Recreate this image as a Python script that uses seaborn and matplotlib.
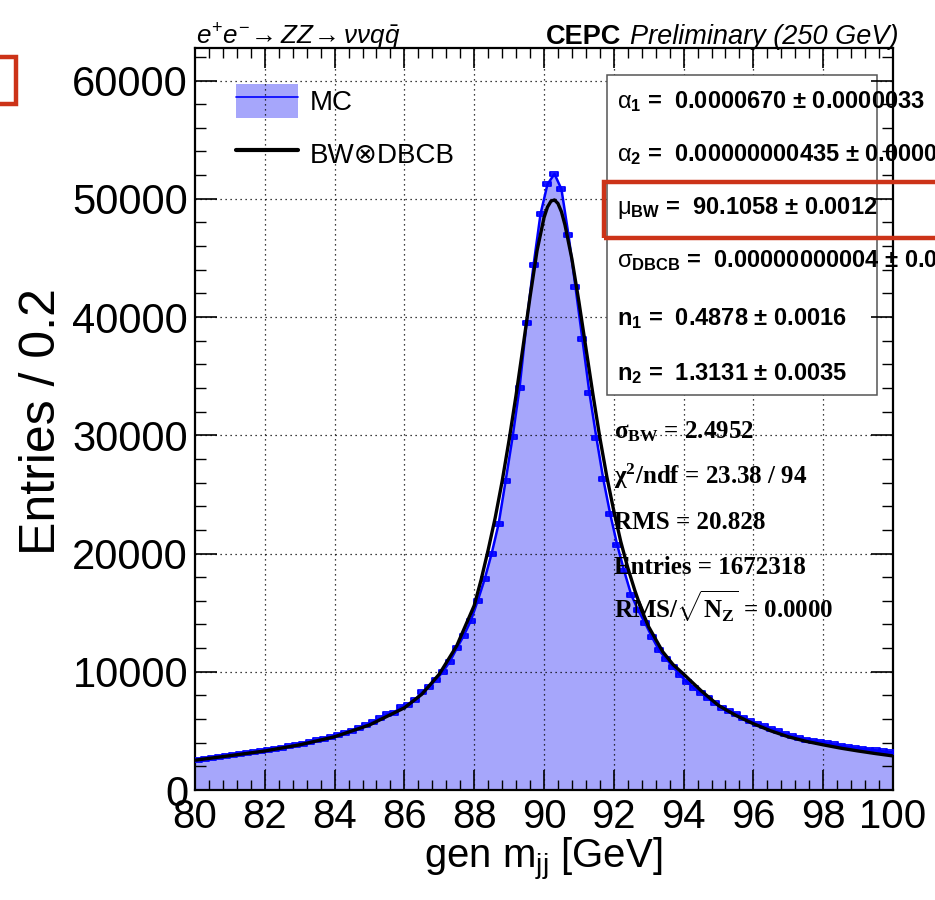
import numpy as np
import matplotlib
matplotlib.use("Agg")
import matplotlib.pyplot as plt
import seaborn as sns
from matplotlib import font_manager
from matplotlib.patches import Rectangle, Patch
from matplotlib.lines import Line2D
from matplotlib.path import Path
from matplotlib.legend_handler import HandlerTuple
from matplotlib.ticker import MultipleLocator

# ---------------------------------------------------------------- data
mass_lo, mass_hi, bin_width = 80.0, 100.0, 0.2
mass_centres = np.round(np.arange(mass_lo + bin_width / 2, mass_hi, bin_width), 1)

# generator-level dijet mass, entries per 0.2 GeV bin (80.1 ... 99.9)
mc_entries = [
    2570, 2650, 2740, 2820, 2880, 3000, 3080, 3140, 3220, 3310,     # 80.1-81.9
    3420, 3500, 3590, 3700, 3840, 3930, 4070, 4210, 4350, 4490,     # 82.1-83.9
    4690, 4830, 4970, 5250, 5480, 5760, 6050, 6410, 6550, 6980,     # 84.1-85.9
    7230, 7600, 8250, 8730, 9290, 10000, 10850, 11980, 13050, 14300,  # 86.1-87.9
    16000, 17830, 20000, 22510, 26140, 29840, 34030, 39510, 44380, 48710,  # 88.1-89.9
    51230, 52100, 50810, 46970, 42570, 38130, 33610, 29810, 26270, 23300,  # 90.1-91.9
    20700, 18500, 16500, 15200, 14100, 12900, 11800, 11100, 10400, 9700,   # 92.1-93.9
    9150, 8600, 8180, 7760, 7340, 6970, 6690, 6450, 6130, 5820,     # 94.1-95.9
    5540, 5380, 5180, 4960, 4740, 4550, 4400, 4270, 4160, 4060,     # 96.1-97.9
    3970, 3850, 3750, 3620, 3560, 3490, 3420, 3350, 3270, 3190,     # 98.1-99.9
]

# BW (x) double-sided Crystal Ball fit curve
fit_mass = [80.0, 81.0, 82.0, 83.0, 84.0, 85.0, 86.0, 86.5, 87.0, 87.5,
            88.0, 88.2, 88.4, 88.6, 88.8, 89.0, 89.2, 89.4, 89.6, 89.8,
            90.0, 90.1, 90.2, 90.3, 90.4, 90.5, 90.6, 90.8, 91.0, 91.2,
            91.4, 91.6, 91.8, 92.0, 92.2, 92.4, 92.6, 92.8, 93.0, 93.4,
            93.7, 94.0, 94.5, 95.0, 95.5, 96.0, 96.5, 97.0, 97.5, 98.0,
            98.5, 99.0, 99.5, 100.0]
fit_entries = [2520, 2900, 3300, 3820, 4500, 5500, 6950, 8100, 9800, 12200,
               15600, 17800, 20300, 23000, 26100, 29600, 33400, 37500, 41700, 45600,
               48400, 49300, 49800, 49900, 49600, 48900, 47800, 44900, 41300, 37400,
               33500, 29800, 26500, 23600, 21000, 18800, 16900, 15200, 13800, 11700,
               10600, 9800, 8400, 7150, 6300, 5600, 5000, 4500, 4120, 3820,
               3540, 3300, 3080, 2880]

x_ticks = [80, 82, 84, 86, 88, 90, 92, 94, 96, 98, 100]
y_ticks = [0, 10000, 20000, 30000, 40000, 50000, 60000]
y_max = 62750

param_lines = [
    r"$\mathrm{\alpha}_{\mathbf{1}}$ =  0.0000670 ± 0.0000033",
    r"$\mathrm{\alpha}_{\mathbf{2}}$ =  0.00000000435 ± 0.00000",
    r"$\mathrm{\mu}_{\mathbf{BW}}$ =  90.1058 ± 0.0012",
    r"$\mathrm{\sigma}_{\mathbf{DBCB}}$ =  0.00000000004 ± 0.00",
    r"$\mathbf{n}_{\mathbf{1}}$ =  0.4878 ± 0.0016",
    r"$\mathbf{n}_{\mathbf{2}}$ =  1.3131 ± 0.0035",
]
param_baselines = [108, 161, 214, 267, 325, 380]

summary_lines = [
    r"$\mathsf{\sigma_{BW}}$ = 2.4952",
    r"$\mathsf{\chi^{2}}$/ndf = 23.38 / 94",
    "RMS = 20.828",
    "Entries = 1672318",
    r"RMS/$\mathsf{\sqrt{N_{Z}}}$ = 0.0000",
]
summary_baselines = [438, 484, 529, 574, 618]

# ---------------------------------------------------------------- style
sns.set_theme(style="ticks")
names = {f.name for f in font_manager.fontManager.ttflist}
HAS_NARROW = "Liberation Sans Narrow" in names
NARROW = "Liberation Sans Narrow" if HAS_NARROW else "Liberation Sans"
NS = 1.0 if HAS_NARROW else 0.85
SANS = ["Liberation Sans", "DejaVu Sans"]
SERIF = ["Liberation Serif", "DejaVu Serif"]

plt.rcParams.update({
    "font.family": SANS,
    "text.color": "black",
    "axes.labelcolor": "black",
    "axes.edgecolor": "black",
    "xtick.color": "black",
    "ytick.color": "black",
    "legend.labelcolor": "black",
    "mathtext.fontset": "custom",
    "mathtext.rm": "Liberation Sans",
    "mathtext.bf": "Liberation Sans:bold",
    "mathtext.it": f"{NARROW}:italic",
    "mathtext.sf": "Liberation Serif:bold",
    "mathtext.tt": NARROW,
    "axes.linewidth": 1.6,
})

FILL = "#a6a6fb"
LINE_BLUE = "#0000ff"
RED = "#cc3318"

W, H = 935, 900
def fx(px):
    return px / W
def fy(py):
    return 1 - py / H

fig = plt.figure(figsize=(W / 100, H / 100), dpi=100)
fig.patch.set_facecolor("white")
ax = fig.add_axes([fx(195), fy(790), (893 - 195) / W, (790 - 48) / H])
ax.set_facecolor("white")

# ---------------------------------------------------------------- histogram
mc = list(mc_entries)
x_edge = np.concatenate([[mass_lo], mass_centres, [mass_hi]])
y_edge = np.concatenate([[mc[0]], mc, [mc[-1]]])
ax.fill_between(x_edge, y_edge, 0, color=FILL, lw=0, zorder=1)
sns.lineplot(x=x_edge, y=y_edge, ax=ax, color=LINE_BLUE, lw=1.8, zorder=3,
             sort=False, estimator=None)

box_marker = Path(
    [(-1, -0.55), (1, -0.55), (1, 0.55), (-1, 0.55), (-1, -0.55), (-1, 0), (1, 0)],
    [Path.MOVETO, Path.LINETO, Path.LINETO, Path.LINETO, Path.CLOSEPOLY,
     Path.MOVETO, Path.LINETO])
ax.plot(mass_centres, mc, ls="none", marker=box_marker, ms=5.5, mfc="none",
        mec=LINE_BLUE, mew=1.3, zorder=3.1)

# fit curve
sns.lineplot(x=fit_mass, y=fit_entries, ax=ax, color="black", lw=2.4, zorder=3.2,
             sort=False, estimator=None)

# ---------------------------------------------------------------- axes
ax.set_xlim(mass_lo, mass_hi)
ax.set_ylim(0, y_max)
ax.set_xticks(x_ticks)
ax.set_yticks(y_ticks)
ax.xaxis.set_minor_locator(MultipleLocator(0.4))
ax.yaxis.set_minor_locator(MultipleLocator(2000))
ax.set_axisbelow(False)
ax.tick_params(which="both", direction="in", top=True, right=True,
               colors="black", labelcolor="black")
ax.tick_params(axis="x", which="major", length=14.5, width=1.2, pad=6)
ax.tick_params(axis="x", which="minor", length=7.2, width=1.0)
ax.tick_params(axis="y", which="major", length=16, width=1.2, pad=5)
ax.tick_params(axis="y", which="minor", length=8, width=1.0)
for lab in ax.get_xticklabels():
    lab.set_fontfamily(NARROW)
    lab.set_fontsize(34 * NS)
for lab in ax.get_yticklabels():
    lab.set_fontfamily(SANS)
    lab.set_fontsize(30)
ax.set_xlabel("")
ax.set_ylabel("")
for sp in ax.spines.values():
    sp.set_color("black")
    sp.set_linewidth(1.6)

# dotted grid at major ticks
grid_style = dict(color="black", lw=0.9, ls=(0, (1, 3)), zorder=2)
for xv in x_ticks[1:-1]:
    ax.axvline(xv, **grid_style)
for yv in y_ticks[1:]:
    ax.axhline(yv, **grid_style)

# fit parameter box
ax.add_patch(Rectangle((fx(607), fy(395)), (877 - 607) / W, (395 - 75) / H,
                       transform=fig.transFigure, fc="white", ec="#555555",
                       lw=1.1, zorder=2.2))

# legend
leg = ax.legend(
    handles=[(Patch(fc=FILL, ec="none"), Line2D([], [], color=LINE_BLUE, lw=1.2)),
             Line2D([], [], color="black", lw=3.0)],
    labels=["MC", "BW⊗DBCB"],
    handler_map={tuple: HandlerTuple(ndivide=1, pad=0)},
    loc="upper left", bbox_to_anchor=(fx(236), fy(84)), bbox_transform=fig.transFigure,
    frameon=False, borderpad=0, borderaxespad=0, handlelength=2.23,
    handleheight=1.51, handletextpad=0.43, labelspacing=0.68,
    prop={"family": SANS, "size": 20})
leg.set_zorder(1.5)
for t in leg.get_texts():
    t.set_color("black")

# ---------------------------------------------------------------- texts
fig.text(fx(42), fy(422), "Entries / 0.2", rotation=90, ha="center", va="center",
         family=SANS, size=36)
fig.text(fx(543), fy(868), r"gen m$_{\mathtt{jj}}$ [GeV]", ha="center", va="baseline",
         family=NARROW, size=34 * NS)

fig.text(fx(196), fy(44), r"$\mathit{e^{+}e^{-}\!\rightarrow ZZ\!\rightarrow \nu\nu q\bar{q}}$",
         ha="left", va="baseline", size=22 * NS)
fig.text(fx(621), fy(44), "CEPC", ha="right", va="baseline", family=NARROW,
         weight="bold", size=23 * NS)
fig.text(fx(899), fy(44), "Preliminary (250 GeV)", ha="right", va="baseline",
         family=NARROW, style="italic", size=23 * NS)

for txt, yb in zip(param_lines, param_baselines):
    fig.text(fx(617), fy(yb), txt, ha="left", va="baseline", family=SANS,
             weight="bold", size=17, zorder=6)

for txt, yb in zip(summary_lines, summary_baselines):
    fig.text(fx(614), fy(yb), txt, ha="left", va="baseline", family=SERIF,
             weight="bold", size=18, zorder=6)

# highlight frames
fig.patches.append(Rectangle((fx(604), fy(238)), (1000 - 604) / W, (238 - 182) / H,
                             transform=fig.transFigure, fill=False, ec=RED, lw=3.2,
                             zorder=10))
fig.patches.append(Rectangle((fx(-40), fy(104)), (16 + 40) / W, (104 - 57) / H,
                             transform=fig.transFigure, fill=False, ec=RED, lw=3.2,
                             zorder=10))

fig.savefig("out.png", dpi=100)
